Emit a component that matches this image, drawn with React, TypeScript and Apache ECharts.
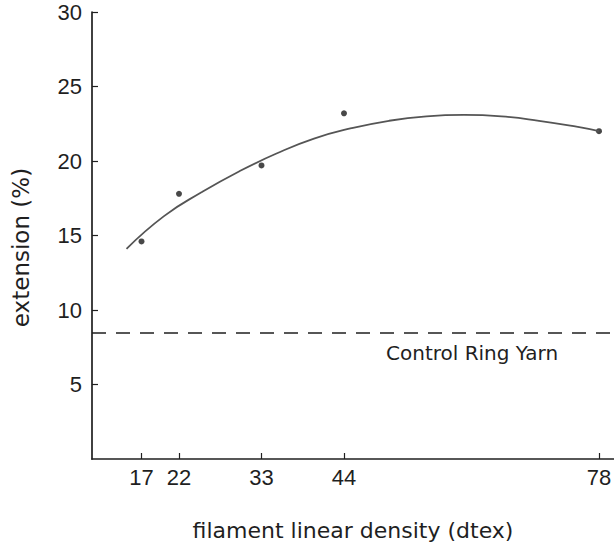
import React, { useEffect, useRef } from "react";
import * as echarts from "echarts";

const xTicks = [17, 22, 33, 44, 78];
const yTicks = [5, 10, 15, 20, 25, 30];
const points: [number, number][] = [
  [17, 14.6],
  [22, 17.8],
  [33, 19.7],
  [44, 23.2],
  [78, 22.0],
];
const curve: [number, number][] = [
  [15, 14.1],
  [20, 16.3],
  [25, 17.9],
  [30, 19.3],
  [35, 20.5],
  [40, 21.5],
  [45, 22.2],
  [50, 22.7],
  [55, 23.0],
  [60, 23.1],
  [65, 23.0],
  [70, 22.7],
  [75, 22.3],
  [78, 22.0],
];
const controlValue = 8.5;
const controlLabel = "Control Ring Yarn";
const xName = "filament linear density (dtex)";
const yName = "extension (%)";

const FONT = "'Liberation Sans', Arial, sans-serif";
const WIDE = "'DejaVu Sans', sans-serif";
const INK = "#1f1f1f";

export default function App() {
  const ref = useRef<HTMLDivElement>(null);
  useEffect(() => {
    document.body.style.margin = "0";
    const chart = echarts.init(ref.current!, undefined, { renderer: "svg" });
    chart.setOption({
      animation: false,
      backgroundColor: "#fff",
      grid: {
        left: 92,
        top: 12,
        right: 0,
        bottom: 85,
        containLabel: false,
        outerBoundsMode: "none",
      },
      xAxis: {
        type: "value",
        min: 10.4,
        max: 80,
        name: xName,
        nameLocation: "middle",
        nameGap: 60,
        nameTextStyle: { fontFamily: WIDE, fontSize: 22, color: INK },
        splitLine: { show: false },
        axisLine: { lineStyle: { color: INK, width: 1.7 } },
        axisTick: {
          inside: true,
          length: 6,
          customValues: xTicks,
          lineStyle: { color: INK, width: 1.2 },
        },
        axisLabel: {
          customValues: xTicks,
          fontFamily: FONT,
          fontSize: 22,
          color: INK,
          margin: 7,
        },
      },
      yAxis: {
        type: "value",
        min: 0,
        max: 30,
        interval: 5,
        name: yName,
        nameLocation: "middle",
        nameGap: 60,
        nameRotate: 90,
        nameTextStyle: {
          fontFamily: WIDE,
          fontSize: 23,
          color: INK,
          padding: [0, 24, 0, 0],
        },
        splitLine: { show: false },
        axisLine: { show: true, lineStyle: { color: INK, width: 1.7 } },
        axisTick: {
          inside: true,
          length: 6,
          customValues: yTicks,
          lineStyle: { color: INK, width: 1.2 },
        },
        axisLabel: {
          customValues: yTicks,
          fontFamily: FONT,
          fontSize: 22,
          color: INK,
          margin: 10,
        },
      },
      series: [
        {
          type: "line",
          data: curve,
          smooth: true,
          symbol: "none",
          lineStyle: { color: "#555", width: 1.8 },
          markLine: {
            silent: true,
            symbol: "none",
            label: { show: false },
            lineStyle: { color: INK, width: 1.5, type: [14, 10] },
            data: [{ yAxis: controlValue }],
          },
        },
        {
          type: "scatter",
          data: points,
          symbol: "circle",
          symbolSize: 6,
          itemStyle: { color: "#1a1a1a" },
        },
      ],
      graphic: [
        {
          type: "text",
          left: 386,
          top: 343,
          style: {
            text: controlLabel,
            fontFamily: WIDE,
            fontSize: 20,
            fill: INK,
          },
        },
      ],
    });
    return () => chart.dispose();
  }, []);
  return <div ref={ref} style={{ width: 614, height: 544 }} />;
}
